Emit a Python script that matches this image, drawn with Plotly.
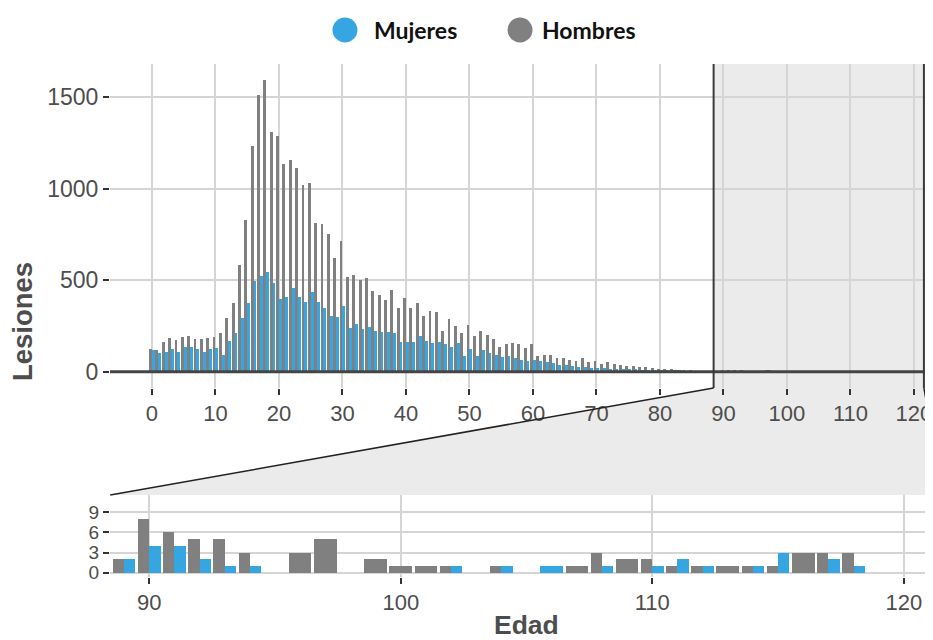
import plotly.graph_objects as go

# ---------------- data ----------------
ages = list(range(0, 119))

hombres = [125, 120, 160, 187, 173, 191, 197, 177, 180, 185,
           191, 213, 291, 373, 583, 832, 1233, 1515, 1597, 1311,
           1288, 1133, 1157, 1111, 1020, 1033, 811, 805, 752, 620,
           714, 519, 528, 501, 514, 443, 421, 392, 446, 346,
           404, 346, 377, 306, 332, 324, 222, 286, 250, 213,
           253, 195, 224, 200, 177, 137, 151, 159, 149, 129,
           151, 86, 91, 91, 77, 73, 64, 60, 73, 55,
           58, 40, 55, 42, 37, 31, 31, 27, 24, 20,
           16, 15, 13, 9, 6, 5, 4, 3, 3,
           2, 8, 6, 5, 5, 3, 0, 3, 5, 0,
           2, 1, 1, 1, 0, 1, 0, 0, 1, 3,
           2, 2, 1, 1, 1, 1, 1, 3, 3, 3]

mujeres = [118, 100, 109, 122, 109, 133, 133, 122, 109, 125,
           128, 91, 167, 213, 291, 373, 497, 523, 543, 483,
           397, 410, 459, 410, 383, 434, 383, 350, 304, 297,
           359, 237, 261, 232, 246, 222, 217, 219, 213, 164,
           164, 164, 195, 170, 159, 164, 151, 137, 155, 86,
           124, 88, 118, 104, 91, 82, 86, 73, 64, 60,
           64, 58, 55, 46, 37, 38, 31, 24, 27, 22,
           20, 18, 16, 15, 15, 13, 13, 11, 9, 9,
           7, 7, 5, 5, 4, 4, 2, 2, 2,
           2, 4, 4, 2, 1, 1, 0, 0, 0, 0,
           0, 0, 0, 1, 0, 1, 0, 1, 0, 1,
           0, 1, 2, 1, 0, 1, 3, 0, 2, 1]

top_xticks = list(range(0, 121, 10))
top_yticks = [0, 500, 1000, 1500]
bot_xticks = [90, 100, 110, 120]
bot_yticks = [0, 3, 6, 9]

# ---------------- styling / layout constants ----------------
BLUE = "#36A6E2"
GRAY = "#808080"
FILL = "#EBEBEB"
GRID = "#D5D5D5"
TXT = "#4D4D4D"

top_range = [-6.61, 123.0]
bot_range = [88.44, 121.16]
zoom_range = [88.45, 121.57]
top_dom = [0.3684, 1.0]
bot_dom = [0.0, 0.1598]

half = 0.45  # dodge: two bars share 0.9 of an age slot; a lone bar fills it


def build(sel, xa, ya):
    a_ = [ages[i] for i in sel]
    h_ = [hombres[i] for i in sel]
    m_ = [mujeres[i] for i in sel]
    both = [h > 0 and m > 0 for h, m in zip(h_, m_)]
    gw = [half if bt else 2 * half for bt in both]
    go_ = [-half for _ in both]
    bw = [half if bt else 2 * half for bt in both]
    bo = [0 if bt else -half for bt in both]
    return [
        go.Bar(x=a_, y=h_, width=gw, offset=go_, marker=dict(color=GRAY, line=dict(width=0)),
               name="Hombres", xaxis=xa, yaxis=ya, showlegend=False),
        go.Bar(x=a_, y=m_, width=bw, offset=bo, marker=dict(color=BLUE, line=dict(width=0)),
               name="Mujeres", xaxis=xa, yaxis=ya, showlegend=False),
    ]


fig = go.Figure()
for t in build(range(len(ages)), "x", "y"):
    fig.add_trace(t)
for t in build([i for i, a in enumerate(ages) if a > zoom_range[0]], "x2", "y2"):
    fig.add_trace(t)


def ptop(v):
    return (v - top_range[0]) / (top_range[1] - top_range[0])


def pbot(v):
    return (v - bot_range[0]) / (bot_range[1] - bot_range[0])


x0t, x1t = ptop(zoom_range[0]), ptop(zoom_range[1])
x0b, x1b = pbot(zoom_range[0]), pbot(zoom_range[1])
yb_top = top_dom[0]
yt_bot = bot_dom[1]

shapes = []
shapes.append(dict(type="rect", xref="paper", yref="paper", x0=x0t, x1=1.0, y0=yb_top, y1=top_dom[1],
                   fillcolor=FILL, line=dict(width=0), layer="below"))
shapes.append(dict(type="path", xref="paper", yref="paper",
                   path=f"M {x0t} {yb_top} L {x1t} {yb_top} L {x1b} {yt_bot} L {x0b} {yt_bot} Z",
                   fillcolor=FILL, line=dict(width=0), layer="below"))
shapes.append(dict(type="line", xref="paper", yref="y", x0=0, x1=1, y0=0, y1=0,
                   line=dict(color="#444444", width=3), layer="above"))
for xv in (x0t, x1t):
    shapes.append(dict(type="line", xref="paper", yref="paper", x0=xv, x1=xv, y0=yb_top, y1=top_dom[1],
                       line=dict(color="#3A3A3A", width=2), layer="above"))
shapes.append(dict(type="line", xref="paper", yref="paper", x0=x0t, x1=x0b, y0=yb_top, y1=yt_bot,
                   line=dict(color="#222222", width=1.5), layer="above"))
shapes.append(dict(type="line", xref="paper", yref="paper", x0=x1t, x1=x1b, y0=yb_top, y1=yt_bot,
                   line=dict(color="#222222", width=1.5), layer="above"))

# legend keys (large round markers)
leg_y = 1.0663
for xa, col in ((0.2855, BLUE), (0.4982, GRAY)):
    shapes.append(dict(type="circle", xref="paper", yref="paper", xsizemode="pixel", ysizemode="pixel",
                       xanchor=xa, yanchor=leg_y, x0=-12.5, x1=12.5, y0=-12.5, y1=12.5,
                       fillcolor=col, line=dict(width=0)))

annotations = [
    dict(text="Mujeres", xref="paper", yref="paper", x=0.3183, y=leg_y, xanchor="left", yanchor="middle",
         showarrow=False, font=dict(family="Lato", size=23, color="#111111", weight="bold")),
    dict(text="Hombres", xref="paper", yref="paper", x=0.5225, y=leg_y, xanchor="left", yanchor="middle",
         showarrow=False, font=dict(family="Lato", size=23, color="#111111", weight="bold")),
    dict(text="Lesiones", xref="paper", yref="paper", x=-0.1069, y=0.497, textangle=-90,
         xanchor="center", yanchor="middle", showarrow=False,
         font=dict(family="Liberation Sans", size=27.5, color=TXT, weight="bold")),
    dict(text="Edad", xref="paper", yref="paper", x=0.5055, y=-0.0936,
         xanchor="center", yanchor="middle", showarrow=False,
         font=dict(family="Liberation Sans", size=26.5, color=TXT, weight="bold")),
]

common = dict(showgrid=True, gridcolor=GRID, gridwidth=1.8, zeroline=False, showline=False,
              ticks="outside", ticklen=6, tickwidth=2, tickcolor="#333333",
              ticklabeloverflow="allow")
xfont = dict(family="Liberation Sans", size=22, color=TXT)
yfont = dict(family="Liberation Sans", size=23, color=TXT)
y2font = dict(family="Liberation Sans", size=19, color=TXT)

fig.update_layout(
    width=925, height=632,
    margin=dict(l=102, r=0, t=56, b=63),
    paper_bgcolor="white", plot_bgcolor="rgba(0,0,0,0)",
    barmode="overlay", bargap=0, showlegend=False,
    xaxis=dict(range=top_range, domain=[0, 1], anchor="y", tickmode="array", tickvals=top_xticks,
               tickfont=xfont, **common),
    yaxis=dict(range=[-89, 1682], domain=top_dom, anchor="x", tickmode="array", tickvals=top_yticks,
               tickfont=yfont, **common),
    xaxis2=dict(range=bot_range, domain=[0, 1], anchor="y2", tickmode="array", tickvals=bot_xticks,
                tickfont=xfont, **common),
    yaxis2=dict(range=[-0.64, 11.58], domain=bot_dom, anchor="x2", tickmode="array", tickvals=bot_yticks,
                tickfont=y2font, **common),
    shapes=shapes, annotations=annotations,
)

fig.write_html("out.html")
